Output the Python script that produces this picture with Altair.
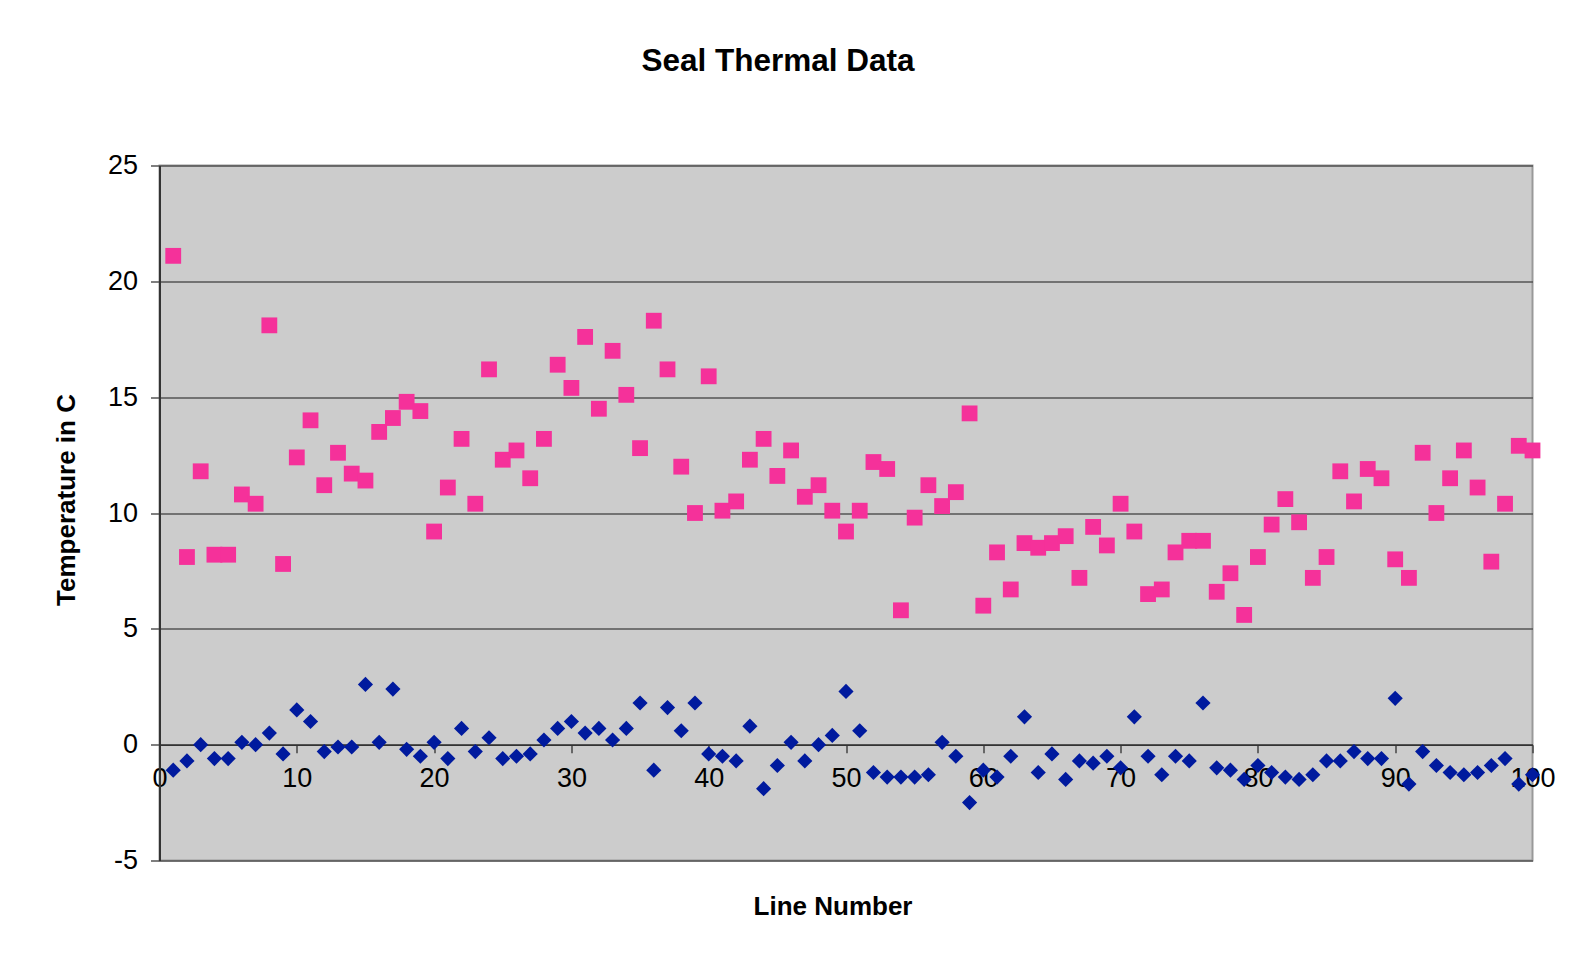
import altair as alt
import pandas as pd

# ---- data ----
line_number = list(range(1, 101))

series_pink = [
    21.1, 8.1, 11.8, 8.2, 8.2, 10.8, 10.4, 18.1, 7.8, 12.4,
    14.0, 11.2, 12.6, 11.7, 11.4, 13.5, 14.1, 14.8, 14.4, 9.2,
    11.1, 13.2, 10.4, 16.2, 12.3, 12.7, 11.5, 13.2, 16.4, 15.4,
    17.6, 14.5, 17.0, 15.1, 12.8, 18.3, 16.2, 12.0, 10.0, 15.9,
    10.1, 10.5, 12.3, 13.2, 11.6, 12.7, 10.7, 11.2, 10.1, 9.2,
    10.1, 12.2, 11.9, 5.8, 9.8, 11.2, 10.3, 10.9, 14.3, 6.0,
    8.3, 6.7, 8.7, 8.5, 8.7, 9.0, 7.2, 9.4, 8.6, 10.4,
    9.2, 6.5, 6.7, 8.3, 8.8, 8.8, 6.6, 7.4, 5.6, 8.1,
    9.5, 10.6, 9.6, 7.2, 8.1, 11.8, 10.5, 11.9, 11.5, 8.0,
    7.2, 12.6, 10.0, 11.5, 12.7, 11.1, 7.9, 10.4, 12.9, 12.7,
]

series_blue = [
    -1.1, -0.7, 0.0, -0.6, -0.6, 0.1, 0.0, 0.5, -0.4, 1.5,
    1.0, -0.3, -0.1, -0.1, 2.6, 0.1, 2.4, -0.2, -0.5, 0.1,
    -0.6, 0.7, -0.3, 0.3, -0.6, -0.5, -0.4, 0.2, 0.7, 1.0,
    0.5, 0.7, 0.2, 0.7, 1.8, -1.1, 1.6, 0.6, 1.8, -0.4,
    -0.5, -0.7, 0.8, -1.9, -0.9, 0.1, -0.7, 0.0, 0.4, 2.3,
    0.6, -1.2, -1.4, -1.4, -1.4, -1.3, 0.1, -0.5, -2.5, -1.1,
    -1.4, -0.5, 1.2, -1.2, -0.4, -1.5, -0.7, -0.8, -0.5, -1.0,
    1.2, -0.5, -1.3, -0.5, -0.7, 1.8, -1.0, -1.1, -1.5, -0.9,
    -1.2, -1.4, -1.5, -1.3, -0.7, -0.7, -0.3, -0.6, -0.6, 2.0,
    -1.7, -0.3, -0.9, -1.2, -1.3, -1.2, -0.9, -0.6, -1.7, -1.3,
]

x_ticks = list(range(0, 101, 10))
y_ticks = list(range(-5, 26, 5))
series_names = ["Series 1", "Series 2"]
series_colors = ["#001A9E", "#F5319A"]

# ---- layout ----
W, H = 1373, 695
Y_MIN, Y_MAX = -5, 25
zero_offset = -H * (0 - Y_MIN) / (Y_MAX - Y_MIN)   # lift x axis to y = 0
FONT = "Liberation Sans"

df = pd.DataFrame({
    "Line": line_number + line_number,
    "Temp": series_blue + series_pink,
    "Series": [series_names[0]] * len(series_blue) + [series_names[1]] * len(series_pink),
})

x_enc = alt.X(
    "Line:Q",
    scale=alt.Scale(domain=[0, 100], nice=False, zero=False),
    axis=alt.Axis(
        values=x_ticks, grid=False, labelFlush=False,
        offset=zero_offset,
        domainColor="#333333", domainWidth=1.5,
        tickColor="#444444", tickWidth=1.5, tickSize=8,
        labelFontSize=27, labelPadding=13, labelColor="#000000", labelFont=FONT,
        labelExpr="datum.value + ''",
        title="Line Number", titleFontSize=26, titleFont=FONT, titleFontWeight="bold",
        titleColor="#000000",
        titleX=673, titleY=162, titleAlign="center", titleBaseline="middle",
    ),
)

y_enc = alt.Y(
    "Temp:Q",
    scale=alt.Scale(domain=[Y_MIN, Y_MAX], nice=False, zero=False),
    axis=alt.Axis(
        values=y_ticks, grid=True,
        gridColor="#555555", gridWidth=1.5, gridOpacity=1,
        domainColor="#333333", domainWidth=2,
        tickColor="#555555", tickWidth=1.5, tickSize=9,
        labelFontSize=27, labelPadding=13, labelColor="#000000", labelFont=FONT,
        labelExpr="datum.value + ''",
        title="Temperature in C", titleFontSize=26, titleFont=FONT, titleFontWeight="bold",
        titleColor="#000000", titleAngle=270,
        titleX=-93, titleY=334, titleAlign="center", titleBaseline="middle",
    ),
)

color_enc = alt.Color(
    "Series:N",
    scale=alt.Scale(domain=series_names, range=series_colors),
    legend=None,
)

base = alt.Chart(df)

blue_layer = base.transform_filter(alt.datum.Series == series_names[0]).mark_point(
    filled=True, opacity=1, shape="diamond", size=230, strokeWidth=0
).encode(x=x_enc, y=y_enc, color=color_enc)

pink_layer = base.transform_filter(alt.datum.Series == series_names[1]).mark_point(
    filled=True, opacity=1, shape="square", size=250, strokeWidth=0
).encode(x=x_enc, y=y_enc, color=color_enc)

chart = alt.layer(pink_layer, blue_layer).properties(
    width=W,
    height=H,
    autosize=alt.AutoSizeParams(type="none"),
    padding={"left": 151.5, "top": 157.5, "right": 30, "bottom": 80},
    title=alt.TitleParams(
        "Seal Thermal Data", fontSize=31.5, font=FONT, fontWeight="bold",
        color="#000000", anchor="middle", dx=-68, offset=49, baseline="alphabetic",
    ),
).configure(
    background="#FFFFFF",
).configure_view(
    fill="#CCCCCC", stroke="#999999", strokeWidth=2,
)

chart.save("out.html", embed_options={"renderer": "svg", "actions": False})
